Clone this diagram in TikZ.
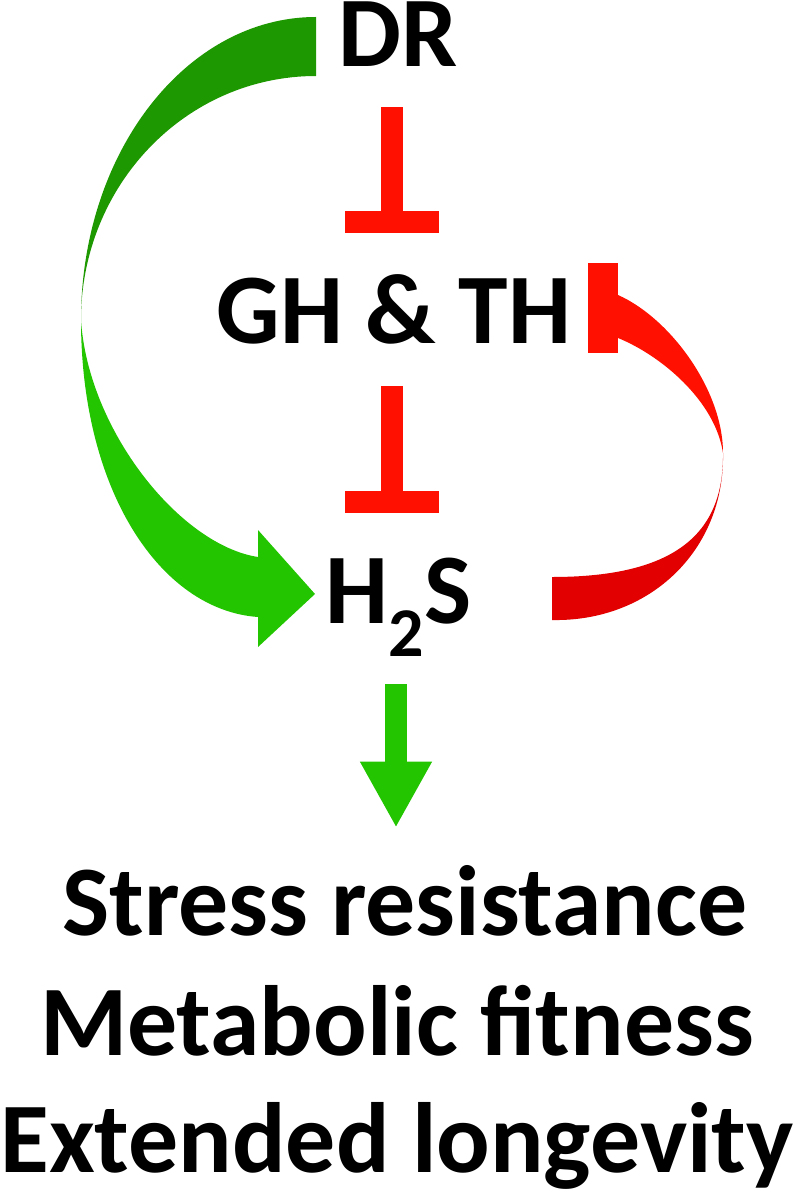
\documentclass[tikz,border=0pt]{standalone}
\usepackage{fontspec}
\setmainfont{Carlito}
\usetikzlibrary{arrows.meta,calc}
\definecolor{grdark}{RGB}{30,152,0}
\definecolor{grlite}{RGB}{34,197,0}
\definecolor{rdlite}{RGB}{255,16,0}
\definecolor{rddark}{RGB}{226,0,0}
\begin{document}
\begin{tikzpicture}[x=0.025cm,y=-0.025cm,
	lbl/.style={inner sep=0pt,anchor=base,text height=1.6cm,text depth=0pt,font=\fontsize{71}{71}\selectfont\bfseries},
	inhib/.style={draw=rdlite,line width=0.55cm,-{Bar[width=2.325cm]}},
	act/.style={draw=grlite,line width=0.55cm,-{Triangle[width=1.675cm,length=1.65cm]}}]
	\useasboundingbox (0,0) rectangle (800,1195);
	\node[lbl] (DR) at (398,67) {DR};
	\node[lbl] (GH) at (394,343) {GH \& TH};
	\node[lbl] (H2S) at (399,623) {H\textsubscript{2}S};
	\node[lbl] (res) at (405,935) {Stress resistance};
	\node[lbl] (fit) at (397,1055) {Metabolic fitness};
	\node[lbl] (lon) at (397,1172) {Extended longevity};
	\coordinate (ax) at (392,0);
	\coordinate (ax2) at (396,0);
	\draw[inhib,shorten <=1cm,shorten >=1.15cm] (ax |- DR.south) -- (ax |- GH.north);
	\draw[inhib,shorten <=1.075cm,shorten >=1.15cm] (ax |- GH.south) -- (ax |- H2S.north);
	\draw[act,shorten <=1.525cm,shorten >=1.075cm] (ax2 |- H2S.south) -- (ax2 |- res.north);
	\fill[grdark] (316,17) .. controls (186,17) and (81,153) .. (81,320) .. controls (81,185) and (186,76) .. (316,76) -- cycle;
	\fill[grlite] (81,320) .. controls (81,490) and (160,610) .. (258,617) -- (258,647) -- (315,594) -- (258,530) -- (258,557) .. controls (180,545) and (88,430) .. (81,320) -- cycle;
	\fill[rdlite] (618,295) .. controls (670,318) and (723,390) .. (723,453) .. controls (715,400) and (660,355) .. (618,338) -- cycle;
	\fill[rddark] (723,453) .. controls (725,550) and (650,622) .. (552,620) -- (552,577) .. controls (680,577) and (724,530) .. (723,453) -- cycle;
	\fill[rdlite] (588,263) rectangle (618,353);
\end{tikzpicture}
\end{document}
